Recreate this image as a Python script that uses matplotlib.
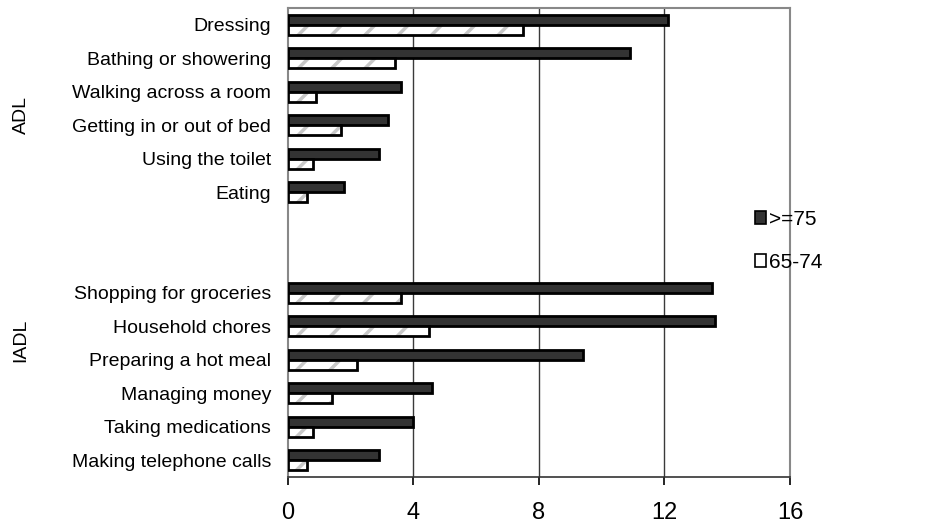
import numpy as np
import matplotlib.pyplot as plt
from matplotlib.patches import Patch

plt.rcParams['font.family'] = ['Liberation Sans', 'DejaVu Sans']
plt.rcParams['hatch.linewidth'] = 2.5

adl_labels = ['Dressing', 'Bathing or showering', 'Walking across a room',
              'Getting in or out of bed', 'Using the toilet', 'Eating']
adl_old = [12.1, 10.9, 3.6, 3.2, 2.9, 1.8]
adl_young = [7.5, 3.4, 0.9, 1.7, 0.8, 0.6]

iadl_labels = ['Shopping for groceries', 'Household chores', 'Preparing a hot meal',
               'Managing money', 'Taking medications', 'Making telephone calls']
iadl_old = [13.5, 13.6, 9.4, 4.6, 4.0, 2.9]
iadl_young = [3.6, 4.5, 2.2, 1.4, 0.8, 0.6]

xticks = [0, 4, 8, 12, 16]

labels = adl_labels + iadl_labels
old = adl_old + iadl_old
young = adl_young + iadl_young
# two empty rows between the groups
y = np.array(list(range(len(adl_labels))) +
             list(range(len(adl_labels) + 2, len(adl_labels) + 2 + len(iadl_labels))))
nrows = len(adl_labels) + 2 + len(iadl_labels)

fig = plt.figure(figsize=(9.28, 5.26), dpi=100)
ax = fig.add_axes([0.3103, 0.0932, 0.541, 0.8916])

h = 0.3
ax.barh(y - h / 2, old, height=h, color='#333333', edgecolor='black', linewidth=2, zorder=3)
# hatched light bars: hatch layer then outline
ax.barh(y + h / 2, young, height=h, color='white', edgecolor='#c8c8c8', hatch='/', linewidth=0, zorder=3)
ax.barh(y + h / 2, young, height=h, fill=False, edgecolor='black', linewidth=2, zorder=4)

ax.set_ylim(nrows - 0.5, -0.5)
ax.set_xlim(0, 16)
ax.set_yticks(y)
ax.set_yticklabels(labels, fontsize=14)
ax.tick_params(axis='y', length=0, pad=12)
ax.set_xticks(xticks)
ax.set_xticklabels([str(t) for t in xticks], fontsize=17)
ax.tick_params(axis='x', length=6, width=1.2, direction='out', pad=12)

for t in xticks[1:-1]:
    ax.axvline(t, color='#3a3a3a', linewidth=1, zorder=1)

for s in ['left', 'top', 'right']:
    ax.spines[s].set_color('#888888')
    ax.spines[s].set_linewidth(1.5)
ax.spines['bottom'].set_color('#333333')
ax.spines['bottom'].set_linewidth(1.2)

# group labels
fig.text(21 / 928, 1 - 115 / 526, 'ADL', rotation=90, ha='center', va='center', fontsize=14)
fig.text(21 / 928, 1 - 340 / 526, 'IADL', rotation=90, ha='center', va='center', fontsize=14)

handles = [Patch(facecolor='#333333', edgecolor='black', linewidth=1.2),
           Patch(facecolor='white', edgecolor='black', linewidth=1.2)]
fig.legend(handles, ['>=75', '65-74'], loc='center left', bbox_to_anchor=(0.793, 0.542),
           frameon=False, fontsize=15, handlelength=0.55, handleheight=0.55,
           handletextpad=0.15, labelspacing=1.15)

fig.savefig('out.png', dpi=100)
